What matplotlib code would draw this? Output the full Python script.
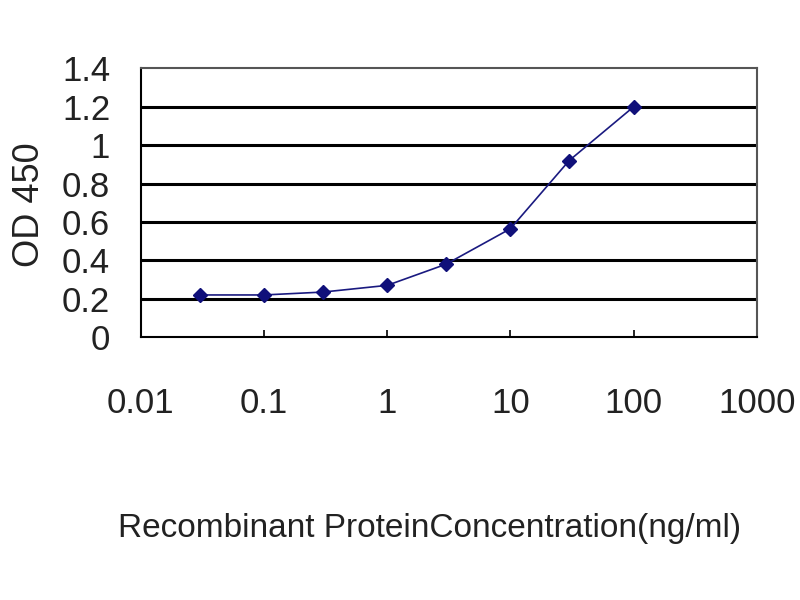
import matplotlib
matplotlib.use('Agg')
import matplotlib.pyplot as plt

# 数据
conc = [0.03, 0.1, 0.3, 1, 3, 10, 30, 100]
od450 = [0.22, 0.22, 0.235, 0.27, 0.38, 0.565, 0.92, 1.2]
yticks = [0, 0.2, 0.4, 0.6, 0.8, 1.0, 1.2, 1.4]
ytick_labels = ['0', '0.2', '0.4', '0.6', '0.8', '1', '1.2', '1.4']
xticks = [0.01, 0.1, 1, 10, 100, 1000]
xtick_labels = ['0.01', '0.1', '1', '10', '100', '1000']

plt.rcParams['font.family'] = ['Liberation Sans', 'DejaVu Sans']

fig = plt.figure(figsize=(8, 6), dpi=100)
ax = fig.add_axes([0.176, 0.438, 0.77, 0.448])

for y in yticks[1:-1]:
    ax.axhline(y, color='black', lw=2.2, zorder=1)

ax.plot(conc, od450, color='#1a1a80', lw=1.2, marker='D', markersize=7,
        markerfacecolor='#10107a', markeredgecolor='#10107a', zorder=3)

ax.set_xscale('log')
ax.set_xlim(0.01, 1000)
ax.set_ylim(0, 1.4)
ax.set_xticks(xticks)
ax.set_xticklabels(xtick_labels, fontsize=25, color='#222222')
ax.minorticks_off()
ax.set_yticks(yticks)
ax.set_yticklabels(ytick_labels, fontsize=25, color='#222222')
ax.tick_params(axis='x', direction='in', length=5, width=1.2, pad=36)
ax.tick_params(axis='y', direction='out', length=0, pad=22)

for s in ax.spines.values():
    s.set_color('black')
    s.set_linewidth(1.5)
ax.spines['top'].set_color('#555555')
ax.spines['right'].set_color('#555555')

fig.text(0.037, 1 - 205 / 600, 'OD 450', rotation=90, fontsize=26,
         color='#222222', ha='center', va='center')
fig.text(430 / 800, 1 - 528 / 600, 'Recombinant ProteinConcentration(ng/ml)',
         fontsize=24, color='#222222', ha='center', va='center')

fig.savefig('out.png', dpi=100)
